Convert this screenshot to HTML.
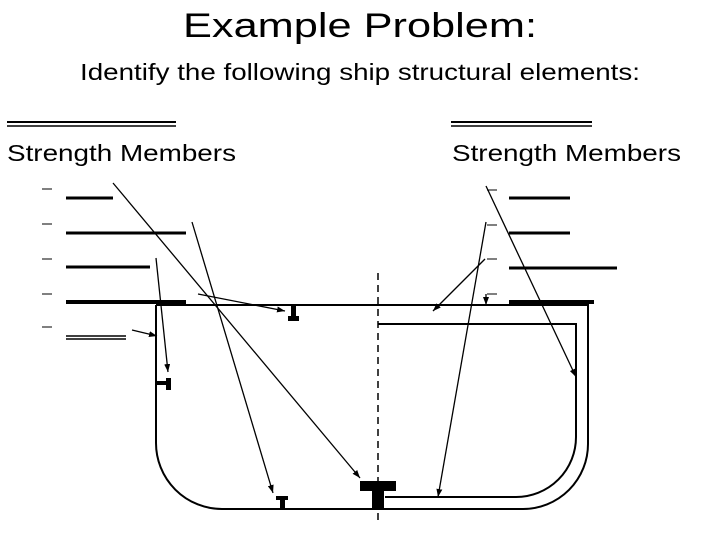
<!DOCTYPE html>
<html><head><style>html,body{margin:0;padding:0;background:#fff}svg{display:block}</style></head><body>
<svg width="720" height="540" viewBox="0 0 720 540" xmlns="http://www.w3.org/2000/svg" font-family="Liberation Sans, sans-serif">
<defs><marker id="a" markerWidth="8" markerHeight="6" refX="8" refY="3" orient="auto" markerUnits="userSpaceOnUse"><path d="M0,0 L8,3 L0,6 z" fill="#000"/></marker></defs>
<text x="360" y="37" font-size="34" text-anchor="middle" textLength="354" lengthAdjust="spacingAndGlyphs">Example Problem:</text>
<text x="360" y="80" font-size="23" text-anchor="middle" textLength="560" lengthAdjust="spacingAndGlyphs">Identify the following ship structural elements:</text>
<text x="7" y="161" font-size="23" textLength="229" lengthAdjust="spacingAndGlyphs">Strength Members</text>
<text x="452" y="161" font-size="23" textLength="229" lengthAdjust="spacingAndGlyphs">Strength Members</text>
<g stroke="#000" fill="none">
<line x1="7" y1="122" x2="176" y2="122" stroke-width="2"/><line x1="7" y1="126" x2="176" y2="126" stroke-width="1.5"/>
<line x1="451" y1="122" x2="592" y2="122" stroke-width="2"/><line x1="451" y1="126" x2="592" y2="126" stroke-width="1.5"/>
<g stroke-width="1"><line x1="42" y1="189" x2="52" y2="189"/><line x1="42" y1="224" x2="52" y2="224"/><line x1="42" y1="259" x2="52" y2="259"/><line x1="42" y1="294" x2="52" y2="294"/><line x1="42" y1="327" x2="52" y2="327"/>
<line x1="487" y1="190" x2="497" y2="190"/><line x1="487" y1="225" x2="497" y2="225"/><line x1="487" y1="259" x2="497" y2="259"/><line x1="487" y1="294" x2="497" y2="294"/></g>
<g stroke-width="3"><line x1="66" y1="198" x2="113" y2="198"/><line x1="66" y1="233" x2="186" y2="233"/><line x1="66" y1="267" x2="150" y2="267"/><line x1="66" y1="302" x2="186" y2="302" stroke-width="4"/>
<line x1="509" y1="198" x2="570" y2="198"/><line x1="509" y1="233" x2="570" y2="233"/><line x1="509" y1="268" x2="617" y2="268"/><line x1="509" y1="302" x2="594" y2="302" stroke-width="4"/></g>
<line x1="66" y1="336" x2="126" y2="336" stroke-width="1.5"/><line x1="66" y1="339" x2="126" y2="339" stroke-width="1.5"/>
<g stroke-width="2">
<path d="M156,305 V443 A66,66 0 0 0 222,509 H523 A65,65 0 0 0 588,444 V305 H156"/>
<path d="M378,324 H576 V437 A60,60 0 0 1 516,497 H385"/>
</g>
<line x1="378" y1="273" x2="378" y2="522" stroke-width="1.5" stroke-dasharray="7,5"/>
<g stroke-width="1.3" marker-end="url(#a)">
<line x1="113" y1="183" x2="360" y2="478"/>
<line x1="192" y1="222" x2="273" y2="493"/>
<line x1="156" y1="258" x2="168" y2="372"/>
<line x1="198" y1="294" x2="285" y2="311"/>
<line x1="132" y1="330" x2="157" y2="336"/>
<line x1="485" y1="259" x2="433" y2="311"/>
<line x1="486" y1="222" x2="438" y2="497"/>
<line x1="486" y1="186" x2="576" y2="377"/>
<line x1="486" y1="294" x2="486" y2="305"/>
</g>
</g>
<g fill="#000">
<rect x="360" y="481" width="36" height="10"/><rect x="372" y="491" width="12" height="18"/>
<rect x="276" y="496" width="12" height="4"/><rect x="280" y="500" width="5" height="9"/>
<rect x="291" y="305" width="5" height="11"/><rect x="288" y="316" width="11" height="5"/>
<rect x="156" y="381" width="10" height="4"/><rect x="166" y="378" width="5" height="12"/>
</g>
</svg>
</body></html>
